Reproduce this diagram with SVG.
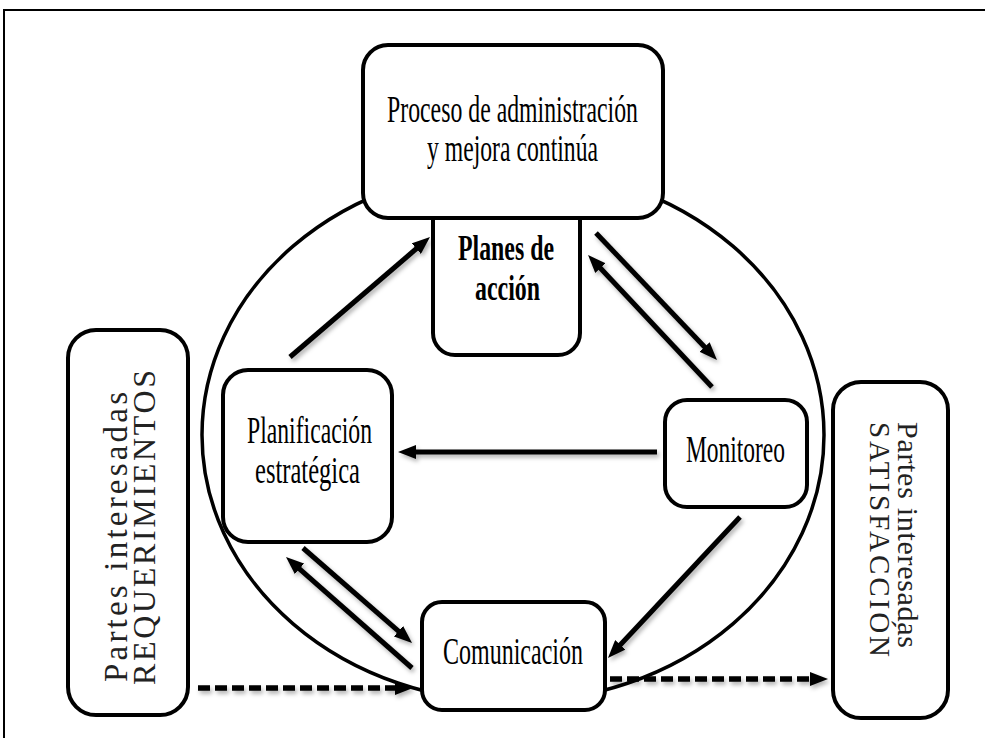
<svg xmlns="http://www.w3.org/2000/svg" width="985" height="738" viewBox="0 0 985 738">
<style>
.box{fill:#fff;stroke:#000;stroke-width:4}
.t{font-family:"Liberation Serif","Times New Roman",serif;font-size:37px;fill:#000}
.tb{font-family:"Liberation Serif","Times New Roman",serif;font-size:36px;font-weight:bold;fill:#000}
.tv{font-family:"Liberation Serif","Times New Roman",serif;fill:#222}
.c{fill:none;stroke:#000;stroke-width:5;marker-end:url(#ah)}
.d{stroke-dasharray:12 5;stroke-width:5.5}
</style>
<defs>
<marker id="ah" markerUnits="userSpaceOnUse" markerWidth="18" markerHeight="14" refX="8" refY="7" orient="auto">
<path d="M0,0 L18,7 L0,14 z" fill="#000"/>
</marker>
<filter id="sh" x="-20%" y="-20%" width="140%" height="140%">
<feDropShadow dx="2" dy="3" stdDeviation="2" flood-color="#000" flood-opacity="0.3"/>
</filter>
</defs>
<path d="M4,738 V10 H985" fill="none" stroke="#000" stroke-width="2"/>
<g id="planificacion">
<rect class="box" x="223" y="370" width="169" height="172" rx="25"/>
<text class="t" x="247" y="443" textLength="125" lengthAdjust="spacingAndGlyphs">Planificación</text>
<text class="t" x="255" y="483" textLength="105" lengthAdjust="spacingAndGlyphs">estratégica</text>
</g>
<ellipse id="ciclo" cx="513" cy="435" rx="311" ry="267" fill="none" stroke="#000" stroke-width="3.5"/>
<g id="planes">
<rect class="box" x="433" y="195" width="147" height="160" rx="22"/>
<text class="tb" x="458" y="260" textLength="96" lengthAdjust="spacingAndGlyphs">Planes de</text>
<text class="tb" x="475" y="300" textLength="65" lengthAdjust="spacingAndGlyphs">acción</text>
</g>
<g id="proceso">
<rect class="box" x="363" y="45" width="300" height="173" rx="25"/>
<text class="t" x="387" y="122" textLength="251" lengthAdjust="spacingAndGlyphs">Proceso de administración</text>
<text class="t" x="427" y="161" textLength="171" lengthAdjust="spacingAndGlyphs">y mejora continúa</text>
</g>
<g id="monitoreo">
<rect class="box" x="665" y="400" width="142" height="107" rx="22"/>
<text class="t" x="686" y="462" textLength="99" lengthAdjust="spacingAndGlyphs">Monitoreo</text>
</g>
<g id="comunicacion">
<rect class="box" x="422" y="602" width="183" height="108" rx="20"/>
<text class="t" x="443" y="664" textLength="140" lengthAdjust="spacingAndGlyphs">Comunicación</text>
</g>
<g id="requerimientos">
<rect class="box" x="68" y="330" width="120" height="385" rx="28"/>
<text class="tv" font-size="33" transform="translate(127,682) rotate(-90)" textLength="290">Partes interesadas</text>
<text class="tv" font-size="32" transform="translate(155,685) rotate(-90)" textLength="315">REQUERIMIENTOS</text>
</g>
<g id="satisfaccion">
<rect class="box" x="833" y="382" width="115" height="336" rx="28"/>
<text class="tv" font-size="30" transform="translate(898,422) rotate(90)" textLength="226">Partes interesadas</text>
<text class="tv" font-size="29" transform="translate(870,422) rotate(90)" textLength="235">SATISFACCIÓN</text>
</g>
<g id="connectors" filter="url(#sh)">
<path class="c" d="M290,357 L422.4,243.5"/>
<path class="c" d="M596,233 L710.1,352.8"/>
<path class="c" d="M712,387 L594.9,262.3"/>
<path class="c" d="M657,452 L408,452"/>
<path class="c" d="M740,517 L614.8,650.7"/>
<path class="c" d="M303,548 L404.5,636.4"/>
<path class="c" d="M412,668 L293.5,563.6"/>
<path class="c d" d="M198,688 L403,688"/>
<path class="c d" d="M610,679 L818,679"/>
</g>
</svg>
